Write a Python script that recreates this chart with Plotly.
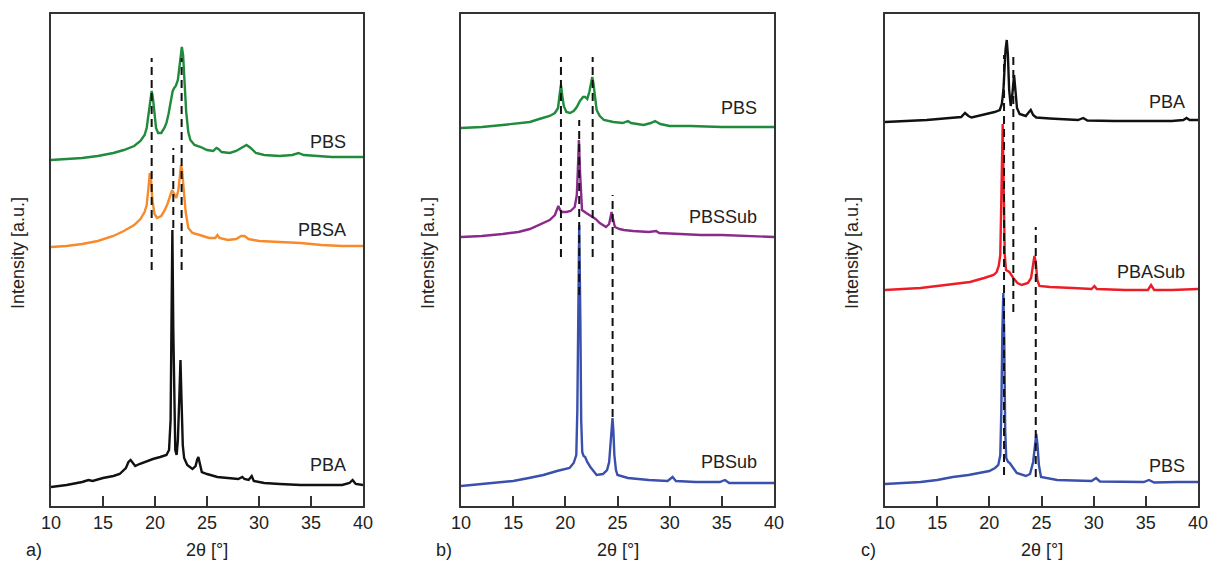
import plotly.graph_objects as go

# ---------------- panel a) ----------------
a_pbs_x = [10.0, 11.5, 13.0, 14.5, 16.0, 17.0, 18.0, 18.6, 19.0, 19.2, 19.4, 19.55, 19.68, 19.8, 19.95,
           20.1, 20.3, 20.6, 20.9, 21.1, 21.3, 21.5, 21.7, 21.85, 22.0, 22.2, 22.35, 22.5, 22.58, 22.7,
           22.85, 23.0, 23.2, 23.4, 23.8, 24.4, 25.0, 25.6, 25.9, 26.1, 26.4, 27.2, 27.8, 28.3, 28.8,
           29.2, 29.7, 30.5, 32.0, 33.2, 33.8, 34.3, 35.5, 37.0, 38.5, 40.0]
a_pbs_y = [346, 347, 348, 350, 353, 356, 360, 365, 371, 378, 394, 410, 415, 408, 391,
           378, 373, 373, 378, 383, 392, 402, 415, 418, 420, 426, 441, 457, 459, 451,
           426, 394, 374, 366, 361, 359, 356, 355, 358, 357, 354, 353, 355, 358, 361,
           358, 353, 351, 350, 351, 353, 351, 350, 349, 349, 349]

a_pbsa_x = [10.0, 11.5, 13.0, 14.5, 16.0, 17.0, 18.0, 18.6, 19.0, 19.2, 19.35, 19.5, 19.62, 19.75, 19.95,
            20.2, 20.6, 20.9, 21.2, 21.45, 21.65, 21.8, 22.05, 22.25, 22.4, 22.5, 22.6, 22.75, 22.95,
            23.2, 23.6, 24.3, 25.2, 25.8, 26.0, 26.2, 27.0, 27.8, 28.3, 28.6, 29.0, 30.0, 32.0, 34.0,
            36.0, 38.0, 40.0]
a_pbsa_y = [259, 260, 262, 265, 270, 275, 281, 287, 294, 301, 316, 333, 326, 306, 292,
            288, 290, 295, 302, 311, 316, 313, 308, 316, 334, 341, 336, 316, 294,
            278, 273, 271, 268, 268, 271, 268, 266, 267, 270, 270, 267, 265, 264, 263,
            261, 260, 260]

a_pba_x = [10.0, 11.5, 13.0, 13.6, 14.0, 15.0, 16.0, 16.6, 17.2, 17.45, 17.65, 17.9, 18.1, 18.5, 19.0,
           19.8, 20.5, 21.1, 21.35, 21.5, 21.58, 21.67, 21.76, 21.85, 21.95, 22.08, 22.2, 22.33, 22.45,
           22.55, 22.67, 22.8, 23.1, 23.6, 23.9, 24.05, 24.17, 24.3, 24.5, 25.0, 26.0, 27.0, 28.0,
           28.4, 28.6, 29.0, 29.3, 29.5, 30.5, 32.0, 34.0, 36.0, 38.0, 38.7, 39.0, 39.3, 40.0]
a_pba_y = [19, 21, 24, 26, 25, 28, 30, 32, 38, 44, 46, 43, 40, 42, 44,
           47, 49, 51, 56, 86, 176, 276, 176, 86, 56, 51, 66, 106, 146,
           106, 61, 48, 41, 37, 40, 46, 49, 43, 34, 32, 29, 28, 27,
           29, 27, 26, 30, 25, 23, 22, 21, 21, 21, 23, 26, 22, 21]

# reflection markers: position, lower end, upper end
a_ref_x = [19.68, 21.76, 22.56]
a_ref_lo = [236, 278, 236]
a_ref_hi = [448, 358, 448]

# ---------------- panel b) ----------------
b_pbs_x = [10.0, 12.0, 14.0, 15.5, 16.6, 17.5, 18.5, 19.0, 19.3, 19.45, 19.58, 19.7, 19.85, 20.1, 20.45,
           20.8, 21.1, 21.4, 21.7, 21.9, 22.1, 22.3, 22.45, 22.58, 22.7, 22.85, 23.0, 23.3, 23.7,
           24.6, 25.5, 26.0, 26.3, 27.5, 28.2, 28.6, 29.1, 30.0, 32.0, 35.0, 37.5, 40.0]
b_pbs_y = [378, 379, 381, 383, 384, 387, 390, 393, 398, 411, 421, 411, 400, 394, 393,
           395, 399, 405, 409, 409, 407, 414, 424, 429, 422, 406, 396, 390, 386,
           384, 383, 385, 383, 381, 383, 385, 382, 380, 380, 379, 379, 379]

b_pbssub_x = [10.0, 12.0, 14.0, 15.5, 16.6, 17.5, 18.5, 19.0, 19.2, 19.33, 19.5, 19.7, 20.1, 20.5, 20.9,
              21.1, 21.2, 21.3, 21.4, 21.5, 21.6, 22.0, 22.5, 22.9, 23.3, 23.9, 24.2, 24.35, 24.43,
              24.55, 24.75, 25.2, 25.6, 26.5, 28.0, 28.7, 29.0, 31.0, 33.0, 35.0, 37.5, 40.0]
b_pbssub_y = [269, 270, 272, 274, 277, 281, 286, 291, 296, 300, 296, 294, 294, 295, 299,
              311, 336, 366, 336, 306, 296, 293, 290, 287, 283, 279, 282, 291, 294,
              288, 279, 277, 276, 275, 274, 275, 273, 272, 271, 271, 270, 269]

b_pbsub_x = [10.0, 12.0, 14.0, 15.0, 16.5, 17.9, 19.2, 20.4, 20.8, 21.05, 21.15, 21.22, 21.33, 21.44,
             21.52, 21.62, 21.75, 21.9, 22.1, 22.4, 23.0, 23.6, 24.0, 24.2, 24.35, 24.45, 24.52, 24.6,
             24.7, 24.85, 25.0, 26.0, 28.0, 29.8, 30.28, 30.6, 32.5, 34.8, 35.3, 35.7, 37.5, 40.0]
b_pbsub_y = [20, 22, 24, 25, 28, 31, 35, 38, 43, 51, 96, 186, 281, 186,
             86, 54, 50, 49, 44, 39, 31, 32, 36, 44, 66, 86, 88, 76,
             51, 36, 31, 28, 26, 25, 29, 25, 24, 24, 26, 23, 23, 23]

b_ref_x = [19.58, 21.33, 22.62, 24.53]
b_ref_lo = [249, 211, 249, 89]
b_ref_hi = [449, 386, 449, 311]

# ---------------- panel c) ----------------
c_pba_x = [10.0, 12.0, 14.0, 16.2, 17.3, 17.67, 18.0, 18.3, 19.4, 20.5, 21.0, 21.2, 21.35, 21.45, 21.55,
           21.67, 21.78, 21.9, 22.05, 22.2, 22.37, 22.5, 22.65, 22.9, 23.5, 23.8, 23.97, 24.2, 24.5,
           25.8, 28.5, 29.0, 29.4, 32.0, 35.4, 37.5, 38.6, 38.9, 39.2, 40.0]
c_pba_y = [384, 385, 386, 388, 389, 393, 390, 388.5, 391, 394, 396, 402, 416, 446, 456,
           466, 451, 416, 400, 411, 431, 416, 398, 392, 390, 394, 396, 391, 388.5,
           387.5, 386, 388, 385.5, 385, 385, 385, 386, 388, 386, 386]

c_pbasub_x = [10.0, 12.0, 13.4, 15.0, 16.5, 18.15, 19.5, 20.4, 20.7, 20.9, 21.05, 21.15, 21.28, 21.38,
              21.48, 21.6, 21.92, 22.3, 22.7, 23.1, 23.7, 24.0, 24.2, 24.32, 24.45, 24.6, 24.8, 25.8,
              28.0, 29.8, 30.07, 30.3, 33.0, 35.2, 35.5, 35.8, 37.5, 40.0]
c_pbasub_y = [216, 217, 218, 220, 222, 224, 228, 231, 234, 240, 251, 306, 382, 316,
              251, 236, 234, 228, 223, 221, 223, 228, 242, 250, 244, 226, 220, 219,
              218, 217, 220, 217, 216, 216, 221, 216, 216, 217]

c_pbs_x = [10.0, 12.0, 13.4, 15.0, 16.5, 18.0, 19.1, 20.0, 20.55, 20.86, 21.05, 21.15, 21.25, 21.34,
           21.43, 21.52, 21.62, 21.8, 21.95, 22.2, 22.63, 23.5, 23.9, 24.2, 24.38, 24.5, 24.62, 24.75,
           24.95, 26.5, 29.8, 30.23, 30.6, 34.8, 35.3, 35.8, 38.0, 40.0]
c_pbs_y = [22, 23, 24, 26, 29, 31, 33, 35, 38, 41, 51, 96, 176, 213,
           166, 76, 48, 44, 43, 39, 33, 30, 32, 44, 66, 72, 61, 41,
           29, 26, 25, 28, 24.5, 24, 26, 23.5, 24, 24]

c_ref_x = [21.41, 22.3, 24.45]
c_ref_lo = [31, 194, 29]
c_ref_hi = [451, 451, 279]

tick_vals = [10, 15, 20, 25, 30, 35, 40]

GREEN = "#1f8b3b"
ORANGE = "#f78a2b"
BLACK = "#111111"
PURPLE = "#8a2b8c"
BLUE = "#3a50ad"
RED = "#ec1d25"
FRAME = "#333333"
TEXT = "#222222"
FONT = "Liberation Sans, Arial, sans-serif"

W, H = 1212, 561
panels = [
    dict(ax="x", ay="y", dom=(51, 363), letter="a)",
         series=[(a_pbs_x, a_pbs_y, GREEN, "PBS", 364),
                 (a_pbsa_x, a_pbsa_y, ORANGE, "PBSA", 276),
                 (a_pba_x, a_pba_y, BLACK, "PBA", 41)],
         refs=(a_ref_x, a_ref_lo, a_ref_hi), label_x=38.6),
    dict(ax="x2", ay="y2", dom=(461, 774), letter="b)",
         series=[(b_pbs_x, b_pbs_y, GREEN, "PBS", 398),
                 (b_pbssub_x, b_pbssub_y, PURPLE, "PBSSub", 289),
                 (b_pbsub_x, b_pbsub_y, BLUE, "PBSub", 44)],
         refs=(b_ref_x, b_ref_lo, b_ref_hi), label_x=38.55),
    dict(ax="x3", ay="y3", dom=(885, 1198), letter="c)",
         series=[(c_pba_x, c_pba_y, BLACK, "PBA", 404),
                 (c_pbasub_x, c_pbasub_y, RED, "PBASub", 234),
                 (c_pbs_x, c_pbs_y, BLUE, "PBS", 40)],
         refs=(c_ref_x, c_ref_lo, c_ref_hi), label_x=38.95),
]

fig = go.Figure()
annotations = []
PLOT_TOP, PLOT_BOTTOM = 14, 506
y_dom = [1 - PLOT_BOTTOM / H, 1 - PLOT_TOP / H]

for i, p in enumerate(panels):
    sfx = "" if i == 0 else str(i + 1)
    # diffraction patterns
    for xs, ys, col, name, ly in p["series"]:
        fig.add_trace(go.Scatter(x=xs, y=ys, mode="lines", name=name,
                                 line=dict(color=col, width=2.4),
                                 xaxis=p["ax"], yaxis=p["ay"], showlegend=False))
        annotations.append(dict(x=p["label_x"], y=ly, xref=p["ax"], yref=p["ay"],
                                text=name, showarrow=False, xanchor="right", yanchor="middle",
                                font=dict(size=18, color=TEXT, family=FONT)))
    # dashed reflection guides
    rx, rlo, rhi = p["refs"]
    for x0, lo, hi in zip(rx, rlo, rhi):
        fig.add_trace(go.Scatter(x=[x0, x0], y=[lo, hi], mode="lines",
                                 line=dict(color="#111111", width=2, dash="8px,5px"),
                                 xaxis=p["ax"], yaxis=p["ay"], showlegend=False,
                                 hoverinfo="skip"))
    l, r = p["dom"]
    fig.update_layout(**{
        "xaxis" + sfx: dict(domain=[l / W, r / W], range=[10, 40], anchor=p["ay"],
                            tickvals=tick_vals, ticks="inside", ticklen=10, tickwidth=1.6,
                            tickcolor=FRAME, showline=True, linecolor=FRAME, linewidth=1.6,
                            mirror=True, showgrid=False, zeroline=False, automargin=False,
                            tickfont=dict(size=18, color=TEXT, family=FONT)),
        "yaxis" + sfx: dict(domain=y_dom, range=[0, 492], anchor=p["ax"], automargin=False,
                            showticklabels=False, ticks="", showline=True, linecolor=FRAME,
                            linewidth=1.6, mirror=True, showgrid=False, zeroline=False),
    })
    cx = (l + r) / 2
    annotations.append(dict(x=cx / W, y=1 - 550 / H, xref="paper", yref="paper",
                            text="2θ [°]", showarrow=False, xanchor="center", yanchor="middle",
                            font=dict(size=18, color=TEXT, family=FONT)))
    annotations.append(dict(x=(l - 17) / W, y=1 - 550 / H, xref="paper", yref="paper",
                            text=p["letter"], showarrow=False, xanchor="center", yanchor="middle",
                            font=dict(size=18, color=TEXT, family=FONT)))
    annotations.append(dict(x=(l - 33) / W, y=1 - 253 / H, xref="paper", yref="paper",
                            text="Intensity [a.u.]", showarrow=False, textangle=-90,
                            xanchor="center", yanchor="middle",
                            font=dict(size=18, color=TEXT, family=FONT)))

fig.update_layout(width=W, height=H, margin=dict(l=0, r=0, t=0, b=0, autoexpand=False),
                  paper_bgcolor="white", plot_bgcolor="white",
                  annotations=annotations, showlegend=False)

fig.write_html("out.html")
